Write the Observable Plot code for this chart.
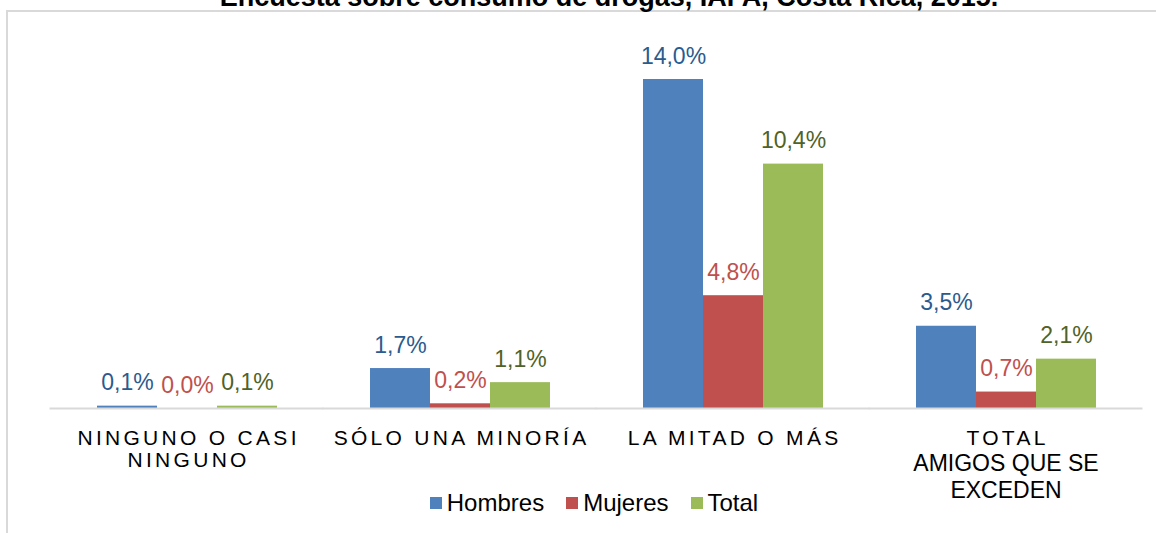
<!DOCTYPE html>
<html>
<head>
<meta charset="utf-8">
<script src="https://cdn.jsdelivr.net/npm/d3@7"></script>
<script src="https://cdn.jsdelivr.net/npm/@observablehq/plot@0.6"></script>
<style>
  body { margin: 0; background: #fff; font-family: "Liberation Sans", Arial, sans-serif; }
  #wrap { position: relative; width: 1156px; height: 533px; overflow: hidden; background: #fff; }
  #frame { position: absolute; left: 6px; top: 10px; width: 1300px; height: 700px; border: 2px solid #d9d9d9; box-sizing: border-box; }
  #title { position: absolute; left: 0; top: -16px; width: 1218px; text-align: center; font-weight: bold; font-size: 27px; line-height: 27px; color: #000; white-space: nowrap; }
  #chart { position: absolute; left: 0; top: 0; }
  #legend { position: absolute; left: 0; top: 490px; width: 1188px; display: flex; justify-content: center; align-items: center; font-size: 24px; line-height: 26px; color: #000; }
  .item { display: flex; align-items: center; margin: 0 11px; }
  .sw { width: 12px; height: 12px; margin-right: 5px; }
</style>
</head>
<body>
<div id="wrap">
  <div id="frame"></div>
  <div id="title"></div>
  <div id="chart"></div>
  <div id="legend"></div>
</div>
<script>
const titleText = "Encuesta sobre consumo de drogas, IAFA, Costa Rica, 2015.";
const categories = ["NINGUNO O CASI NINGUNO", "SÓLO UNA MINORÍA", "LA MITAD O MÁS", "TOTAL AMIGOS QUE SE EXCEDEN"];
const series = ["Hombres", "Mujeres", "Total"];
const hombres = [0.1, 1.7, 14.0, 3.5];
const mujeres = [0.0, 0.2, 4.8, 0.7];
const total = [0.1, 1.1, 10.4, 2.1];
const spacedLabels = ["NINGUNO O CASI\nNINGUNO", "SÓLO UNA MINORÍA", "LA MITAD O MÁS", "TOTAL"];
const plainLabels = ["", "", "", "AMIGOS QUE SE\nEXCEDEN"];
const barColors = ["#4F81BD", "#C0504D", "#9BBB59"];
const labelColors = ["#2B5B8E", "#C0504D", "#4F6228"];

const valuesBySeries = [hombres, mujeres, total];
const rows = [];
series.forEach((s, j) => categories.forEach((c, i) => rows.push({cat: c, serie: s, value: valuesBySeries[j][i]})));
const labelRows = categories.map((c, i) => ({cat: c, spaced: spacedLabels[i], plain: plainLabels[i]}));
const fmt = v => v.toFixed(1).replace(".", ",") + "%";

document.getElementById("title").textContent = titleText;

const chart = Plot.plot({
  width: 1156,
  height: 480,
  marginLeft: 50,
  marginRight: 14,
  marginTop: 32,
  marginBottom: 72,
  style: {background: "transparent", fontFamily: "Liberation Sans, Arial, sans-serif", overflow: "visible"},
  fx: {domain: categories, paddingInner: 0.337, paddingOuter: 0.1685, axis: null, label: null},
  x: {domain: series, padding: 0, axis: null},
  y: {domain: [0, 16], axis: null},
  color: {domain: series, range: barColors},
  marks: [
    Plot.barY(rows, {fx: "cat", x: "serie", y: "value", fill: "serie"}),
    Plot.ruleY(labelRows, {fx: "cat", y: () => 0, stroke: "#d9d9d9", strokeWidth: 2, insetLeft: -46.5, insetRight: -46.5}),
    ...series.map((s, j) => Plot.text(rows.filter(d => d.serie === s), {
      fx: "cat", x: "serie", y: "value", text: d => fmt(d.value),
      fill: labelColors[j], fontSize: 23, lineAnchor: "bottom", dy: -16
    })),
    Plot.text(labelRows, {fx: "cat", frameAnchor: "bottom", text: "spaced", lineAnchor: "top", dy: 21, dx: 1.6, fontSize: 21, lineHeight: 1.05, fill: "#000"}),
    Plot.text(labelRows, {fx: "cat", frameAnchor: "bottom", text: "plain", lineAnchor: "top", dy: 44, fontSize: 23, lineHeight: 1.15, fill: "#000"})
  ]
});
const spacedSet = new Set(spacedLabels.map(s => s.replace("\n", "")));
d3.select(chart).selectAll("text").each(function() {
  if (spacedSet.has(this.textContent)) d3.select(this).attr("letter-spacing", "3.3px");
});
document.getElementById("chart").appendChild(chart);

const legend = d3.select("#legend");
series.forEach((s, j) => {
  const it = legend.append("div").attr("class", "item");
  it.append("div").attr("class", "sw").style("background", barColors[j]);
  it.append("span").text(s);
});
</script>
</body>
</html>
